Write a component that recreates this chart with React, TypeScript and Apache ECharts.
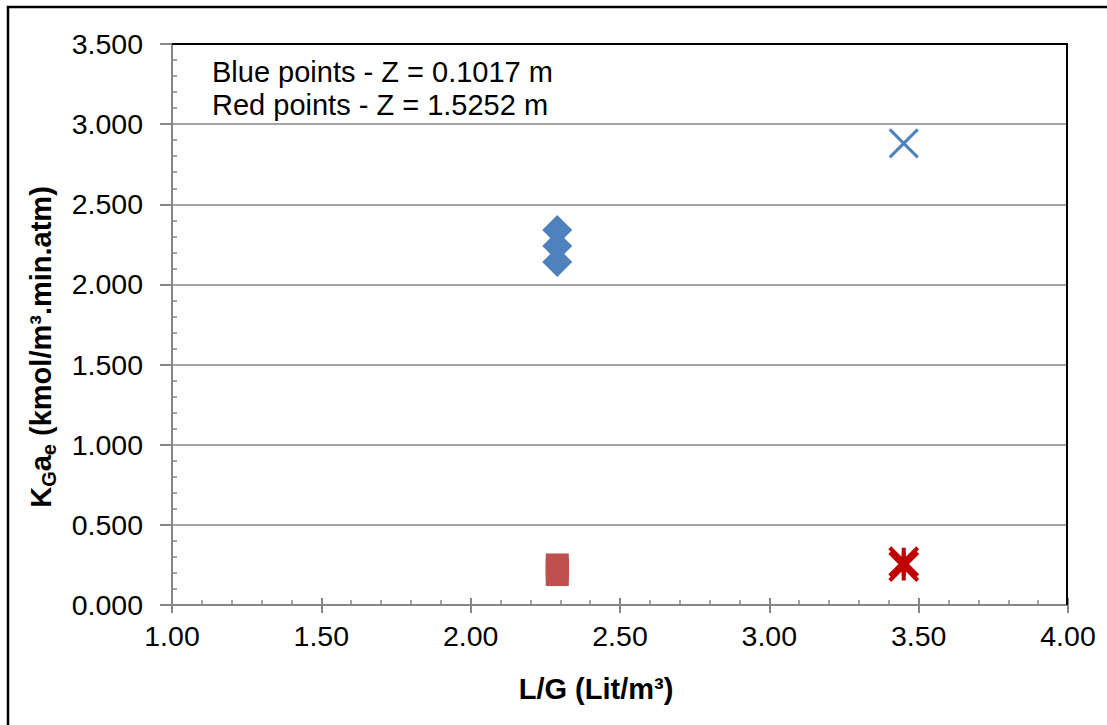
import React, { useEffect, useRef } from "react";
import * as echarts from "echarts";

// Data
const blueDiamondX = [2.29, 2.29, 2.29];
const blueDiamondY = [2.34, 2.24, 2.14];
const blueCrossX = [3.45];
const blueCrossY = [2.88];
const redSquareX = [2.29, 2.29, 2.29];
const redSquareY = [0.25, 0.22, 0.19];
const redStarX = [3.45, 3.45];
const redStarY = [0.27, 0.24];
const annotationLines = ["Blue points - Z = 0.1017 m", "Red points - Z = 1.5252 m"];

const FONT = '"Liberation Sans", Arial, sans-serif';
const GRAY = "#868686";

const pairs = (xs: number[], ys: number[]) => xs.map((x, i) => [x, ys[i]]);

export default function App() {
  const ref = useRef<HTMLDivElement>(null);
  useEffect(() => {
    if (!ref.current) return;
    const chart = echarts.init(ref.current, null, { renderer: "svg" });
    const baseX = {
      type: "value" as const,
      min: 1,
      max: 4,
      interval: 0.5,
      position: "bottom" as const,
    };
    const baseY = {
      type: "value" as const,
      min: 0,
      max: 3.5,
      interval: 0.5,
      position: "left" as const,
    };
    chart.setOption({
      animation: false,
      backgroundColor: "#ffffff",
      grid: { left: 172, right: 39, top: 44, bottom: 120, containLabel: false },
      xAxis: [
        {
          ...baseX,
          axisLine: { show: true, lineStyle: { color: GRAY, width: 2 } },
          axisTick: { show: true, inside: false, length: 8, lineStyle: { color: GRAY, width: 2 } },
          minorTick: { show: false },
          splitLine: { show: false },
          axisLabel: {
            show: true,
            margin: 16,
            color: "#000",
            fontSize: 28.5,
            fontFamily: FONT,
            formatter: (v: number) => v.toFixed(2),
          },
        },
        {
          ...baseX,
          axisLine: { show: false },
          axisTick: { show: true, inside: true, length: 7, lineStyle: { color: GRAY, width: 2 } },
          minorTick: { show: true, splitNumber: 5, length: 5, lineStyle: { color: GRAY, width: 1.5 } },
          splitLine: { show: false },
          axisLabel: { show: false },
        },
      ],
      yAxis: [
        {
          ...baseY,
          axisLine: { show: true, lineStyle: { color: GRAY, width: 2 } },
          axisTick: { show: true, inside: false, length: 12, lineStyle: { color: GRAY, width: 2 } },
          minorTick: { show: false },
          splitLine: { show: true, lineStyle: { color: GRAY, width: 1.5 } },
          axisLabel: {
            show: true,
            margin: 29,
            color: "#000",
            fontSize: 28.5,
            fontFamily: FONT,
            formatter: (v: number) => v.toFixed(3),
          },
        },
        {
          ...baseY,
          axisLine: { show: false },
          axisTick: { show: false, inside: true, length: 5 },
          minorTick: { show: true, splitNumber: 5, length: 5, lineStyle: { color: GRAY, width: 1.5 } },
          splitLine: { show: false },
          axisLabel: { show: false },
        },
      ],
      graphic: [
        {
          type: "rect",
          shape: { x: 8, y: 7, width: 1120, height: 740 },
          style: { fill: "none", stroke: "#000", lineWidth: 2.5 },
          z: 100,
        },
        {
          type: "polyline",
          shape: { points: [[172, 44], [1067, 44], [1067, 605]] },
          style: { fill: "none", stroke: "#000", lineWidth: 2 },
          z: 100,
        },
        {
          type: "text",
          left: 212,
          top: 55,
          style: {
            text: annotationLines.join("\n"),
            fontSize: 29,
            lineHeight: 33,
            fontFamily: FONT,
            fill: "#000",
          },
          z: 100,
        },
        {
          type: "text",
          x: 596,
          y: 689,
          style: {
            text: "L/G (Lit/m³)",
            fontSize: 29,
            fontWeight: "bold",
            fontFamily: FONT,
            fill: "#000",
            align: "center",
            verticalAlign: "middle",
          },
          z: 100,
        },
        {
          type: "text",
          x: 41,
          y: 347,
          rotation: Math.PI / 2,
          style: {
            text: "K{sub|G}a{sub|e} (kmol/m³.min.atm)",
            fontSize: 29,
            fontWeight: "bold",
            fontFamily: FONT,
            fill: "#000",
            align: "center",
            verticalAlign: "middle",
            lineHeight: 36,
            rich: {
              sub: {
                fontSize: 20,
                fontWeight: "bold",
                fontFamily: FONT,
                lineHeight: 20,
                verticalAlign: "bottom",
                fill: "#000",
              },
            },
          },
          z: 100,
        },
      ],
      series: [
        {
          type: "scatter",
          xAxisIndex: 0,
          yAxisIndex: 0,
          data: pairs(blueDiamondX, blueDiamondY),
          symbol: "diamond",
          symbolSize: 30,
          itemStyle: { color: "#4f81bd", opacity: 1 },
        },
        {
          type: "scatter",
          xAxisIndex: 0,
          yAxisIndex: 0,
          data: pairs(blueCrossX, blueCrossY),
          symbol: "path://M0,0L10,10M10,0L0,10",
          symbolSize: 28,
          itemStyle: { color: "none", borderColor: "#4f81bd", borderWidth: 3, opacity: 1 },
        },
        {
          type: "scatter",
          xAxisIndex: 0,
          yAxisIndex: 0,
          data: pairs(redSquareX, redSquareY),
          symbol: "rect",
          symbolSize: 23,
          itemStyle: { color: "#c0504d", opacity: 1 },
        },
        {
          type: "scatter",
          xAxisIndex: 0,
          yAxisIndex: 0,
          data: pairs(redStarX, redStarY),
          symbol: "path://M0,0L10,10M10,0L0,10M5,0L5,10",
          symbolSize: 28,
          itemStyle: { color: "none", borderColor: "#c00000", borderWidth: 4, opacity: 1 },
        },
      ],
    });
    return () => chart.dispose();
  }, []);
  return (
    <div
      ref={ref}
      style={{ position: "absolute", left: 0, top: 0, width: 1107, height: 725 }}
    />
  );
}
